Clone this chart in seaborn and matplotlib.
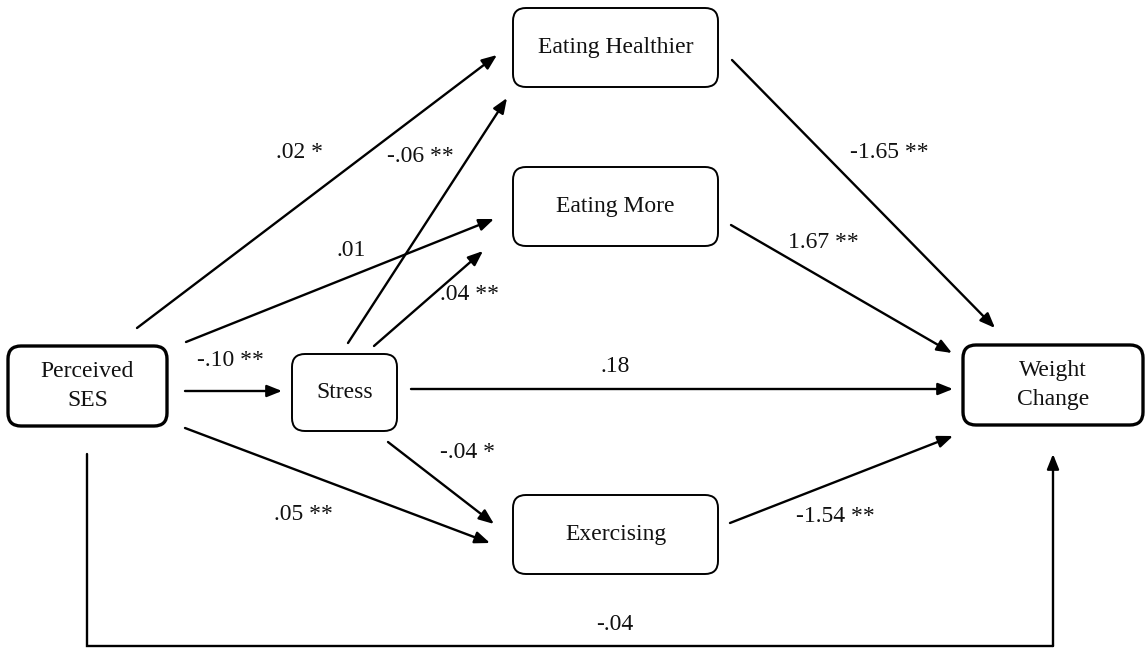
import matplotlib
matplotlib.use("Agg")
import matplotlib.pyplot as plt
from matplotlib.patches import FancyBboxPatch
import seaborn as sns

# path diagram content
node_names = ["ses", "stress", "healthier", "more", "exercise", "weight"]
node_labels = ["Perceived\nSES", "Stress", "Eating Healthier", "Eating More",
               "Exercising", "Weight\nChange"]
path_from = ["ses", "ses", "ses", "ses", "stress", "stress", "stress", "stress",
             "healthier", "more", "exercise"]
path_to = ["stress", "healthier", "more", "exercise", "healthier", "more",
           "weight", "exercise", "weight", "weight", "weight"]
path_coef = ["-.10 **", ".02 *", ".01", ".05 **", "-.06 **", ".04 **",
             ".18", "-.04 *", "-1.65 **", "1.67 **", "-1.54 **"]
direct_coef = "-.04"   # ses -> weight, drawn along the bottom

# layout (pixel units, y grows downwards)
boxes = {
    "ses": (8, 346, 167, 426),
    "stress": (292, 354, 397, 431),
    "healthier": (513, 8, 718, 87),
    "more": (513, 167, 718, 246),
    "exercise": (513, 495, 718, 574),
    "weight": (963, 345, 1143, 425),
}
thick = {"ses", "weight"}
arrow_ends = {
    ("ses", "stress"): ((185, 391), (282, 391)),
    ("ses", "healthier"): ((137, 328), (497, 55)),
    ("ses", "more"): ((186, 342), (494, 219)),
    ("ses", "exercise"): ((185, 428), (490, 543)),
    ("stress", "healthier"): ((348, 343), (507, 98)),
    ("stress", "more"): ((374, 346), (483, 251)),
    ("stress", "weight"): ((411, 389), (953, 389)),
    ("stress", "exercise"): ((388, 442), (494, 524)),
    ("healthier", "weight"): ((732, 60), (995, 328)),
    ("more", "weight"): ((731, 225), (952, 353)),
    ("exercise", "weight"): ((730, 523), (953, 436)),
}
label_pos = {
    ("ses", "stress"): (230, 361),
    ("ses", "healthier"): (300, 153),
    ("ses", "more"): (351, 250),
    ("ses", "exercise"): (303, 515),
    ("stress", "healthier"): (420, 157),
    ("stress", "more"): (470, 295),
    ("stress", "weight"): (615, 367),
    ("stress", "exercise"): (467, 452),
    ("healthier", "weight"): (889, 153),
    ("more", "weight"): (823, 242),
    ("exercise", "weight"): (835, 517),
}
bottom_route = [(87, 454), (87, 646), (1053, 646), (1053, 454)]

sns.set_theme(style="white")
plt.rcParams["font.family"] = ["Liberation Serif", "DejaVu Serif"]

fig = plt.figure(figsize=(11.46, 6.48), dpi=100)
ax = fig.add_axes([0, 0, 1, 1])
ax.set_xlim(0, 1146)
ax.set_ylim(648, 0)
ax.axis("off")

fs = 17

for name, label in zip(node_names, node_labels):
    x0, y0, x1, y1 = boxes[name]
    lw = 2.4 if name in thick else 1.4
    box = FancyBboxPatch((x0, y0), x1 - x0, y1 - y0,
                         boxstyle="round,pad=0,rounding_size=13",
                         fc="white", ec="black", lw=lw)
    ax.add_patch(box)
    ax.text((x0 + x1) / 2, (y0 + y1) / 2, label, ha="center", va="center",
            fontsize=fs, color="#111111", linespacing=1.45)

arrow_kw = dict(arrowstyle="-|>,head_length=0.5,head_width=0.2",
                color="black", lw=1.7, mutation_scale=18,
                shrinkA=0, shrinkB=0)

for src, dst, coef in zip(path_from, path_to, path_coef):
    start, end = arrow_ends[(src, dst)]
    ax.annotate("", xy=end, xytext=start, arrowprops=arrow_kw)
    lx, ly = label_pos[(src, dst)]
    ax.text(lx, ly, coef, ha="center", va="center", fontsize=fs, color="#111111")

# direct effect routed under the diagram
xs = [p[0] for p in bottom_route[:-1]]
ys = [p[1] for p in bottom_route[:-1]]
ax.plot(xs, ys, color="black", lw=1.7, solid_joinstyle="miter")
ax.annotate("", xy=bottom_route[-1], xytext=bottom_route[-2], arrowprops=arrow_kw)
ax.text(615, 625, direct_coef, ha="center", va="center", fontsize=fs, color="#111111")

fig.savefig("out.png", dpi=100, facecolor="white")
